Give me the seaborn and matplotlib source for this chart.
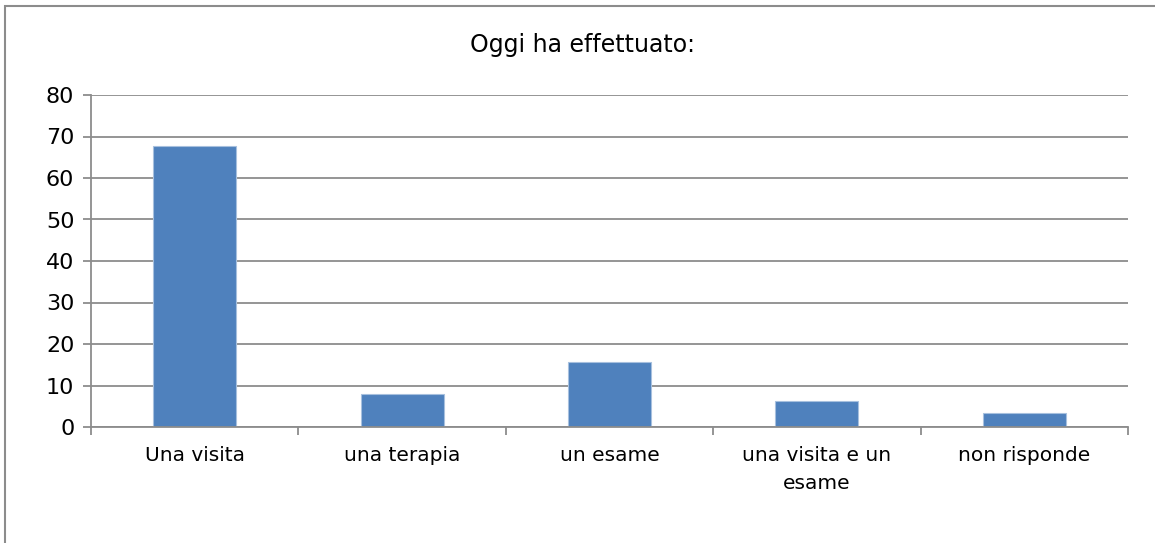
import pandas as pd
import seaborn as sns
import matplotlib.pyplot as plt
import numpy as np
from matplotlib.patches import Rectangle

categories = ["Una visita", "una terapia", "un esame", "una visita e un\nesame", "non risponde"]
values = [67.8, 8.0, 15.6, 6.2, 3.3]

df = pd.DataFrame({"cat": categories, "val": values})

sns.set_style("white")
plt.rcParams['font.family'] = ['DejaVu Sans']
plt.rcParams['text.color'] = 'black'
plt.rcParams['xtick.color'] = 'black'
plt.rcParams['ytick.color'] = 'black'

fig = plt.figure(figsize=(11.55, 5.43), dpi=100)
ax = fig.add_axes([91 / 1155, 1 - 427 / 543, (1128 - 91) / 1155, (427 - 95) / 543])

sns.barplot(x="cat", y="val", data=df, color="#4F81BD", width=0.4, saturation=1, ax=ax,
            edgecolor="#A7C0DE", linewidth=0.8)

ax.set_ylim(0, 80)
ax.set_xlim(-0.5, 4.5)
ax.set_yticks(np.arange(0, 81, 10))
ax.yaxis.grid(True, color="#8C8C8C", linewidth=1.3)
ax.set_axisbelow(True)
ax.set_xlabel("")
ax.set_ylabel("")

for s in ["top", "right"]:
    ax.spines[s].set_visible(False)
for s in ["left", "bottom"]:
    ax.spines[s].set_color("#8C8C8C")
    ax.spines[s].set_linewidth(1.3)

ax.tick_params(axis="y", left=True, length=6, color="#8C8C8C", labelcolor="black",
               width=1.3, labelsize=16, pad=6)
ax.tick_params(axis="x", which="major", bottom=True, length=0, labelcolor="black",
               labelsize=14.5, pad=14)
ax.set_xticks(np.arange(-0.5, 4.6, 1), minor=True)
ax.tick_params(axis="x", which="minor", bottom=True, length=6, color="#8C8C8C", width=1.3)
for lbl in ax.get_xticklabels():
    lbl.set_linespacing(1.6)

fig.text(583 / 1155, 1 - 45 / 543, "Oggi ha effettuato:", ha="center", va="center",
         fontsize=17, color="black")

fig.patches.append(Rectangle((5 / 1155, -0.1), 1.2, 1 - 6 / 543 + 0.1, transform=fig.transFigure,
                             fill=False, edgecolor="#8C8C8C", linewidth=1.5))

fig.savefig("out.png", dpi=100)
